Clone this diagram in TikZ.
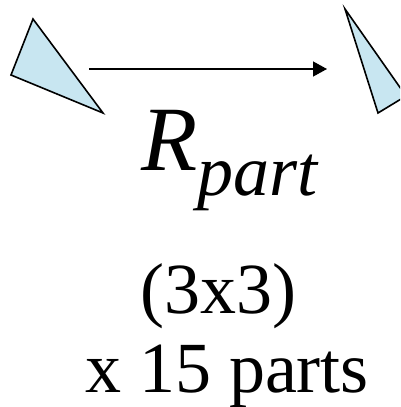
\documentclass[tikz,border=0pt]{standalone}
\usepackage{fontspec}
\setmainfont{Liberation Serif}[ItalicFont={Liberation Serif Italic}]
\usetikzlibrary{arrows.meta}

\begin{document}
\begin{tikzpicture}[x=1pt, y=-1pt,
  tri/.style={draw=black, fill=cyan!20!white!90!gray, line width=1.6pt, line join=miter},
  arr/.style={-{Triangle[length=14pt, width=15pt]}, line width=1.4pt},
  lbl/.style={inner sep=0pt, font=\fontsize{72}{72}\selectfont}]
\useasboundingbox (0,0) rectangle (400,407);
\clip (0,0) rectangle (400,407);
% triangles
\draw[tri] (33,19) -- (11,75) -- (103,113) -- cycle;
\draw[tri] (345,9) -- (378,113) -- (406,96) -- cycle;
% arrow
\coordinate (src) at (89,69);
\coordinate (dst) at (327,69);
\draw[arr] (src) -- (dst);
% labels
\node[lbl, anchor=base west] (rpart) at (141,170)
  {\fontsize{92}{92}\selectfont\itshape R\fontsize{72}{72}\selectfont\raisebox{-25pt}{part}};
\node[lbl, anchor=base] (size) at (218,313) {(3x3)};
\node[lbl, anchor=base] (count) at (227,392) {x 15 parts};
\end{tikzpicture}
\end{document}
